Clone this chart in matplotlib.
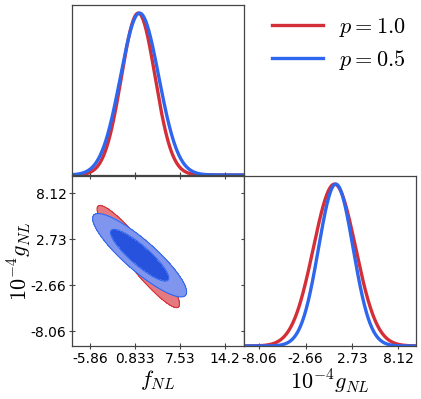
import matplotlib
matplotlib.use("Agg")
import matplotlib.pyplot as plt
import numpy as np

plt.rcParams['mathtext.fontset'] = 'cm'
plt.rcParams['font.size'] = 10

# posterior summaries (fNL, 1e-4 gNL)
labels = ['$p = 1.0$', '$p = 0.5$']
line_colors = ['#d42f38', '#2f66ee']
fill_light = ['#e47a80', '#8096ee']
fill_dark = ['#c8323c', '#2652de']
f_mean = [1.3, 1.5]
f_sigma = [2.5, 2.85]
g_mean = [0.7, 0.85]
g_sigma = [2.45, 2.0]
rho = [-0.93, -0.88]

f_ticks = [-5.86, 0.833, 7.53, 14.2]
f_ticklabels = ['-5.86', '0.833', '7.53', '14.2']
g_ticks = [-8.06, -2.66, 2.73, 8.12]
g_ticklabels = ['-8.06', '-2.66', '2.73', '8.12']
f_lim = (-8.54, 17.0)
g_lim = (-9.8, 10.15)

W, H = 421, 399
fig = plt.figure(figsize=(W / 100, H / 100), dpi=100)

def box(x0, y0, x1, y1):
    return [x0 / W, 1 - y1 / H, (x1 - x0) / W, (y1 - y0) / H]

ax_f = fig.add_axes(box(72, 5, 244, 175))
ax_2d = fig.add_axes(box(72, 176, 244, 346))
ax_g = fig.add_axes(box(244, 176, 416, 346))

tick_kw = dict(direction='inout', length=4, width=0.8, color='#444444')

# 1D marginals
xf = np.linspace(f_lim[0], f_lim[1], 600)
xg = np.linspace(g_lim[0], g_lim[1], 600)
for i in range(2):
    pf = np.exp(-0.5 * ((xf - f_mean[i]) / f_sigma[i]) ** 2)
    pg = np.exp(-0.5 * ((xg - g_mean[i]) / g_sigma[i]) ** 2)
    ax_f.plot(xf, pf, color=line_colors[i], lw=2.4, label=labels[i])
    ax_g.plot(xg, pg, color=line_colors[i], lw=2.4)

ax_f.set_xlim(f_lim)
ax_f.set_ylim(0, 1.05)
ax_f.set_xticks(f_ticks)
ax_f.set_yticks([])
ax_f.tick_params(axis='x', labelbottom=False, **tick_kw)

ax_g.set_xlim(g_lim)
ax_g.set_ylim(0, 1.05)
ax_g.set_xticks(g_ticks)
ax_g.set_xticklabels(g_ticklabels)
ax_g.set_yticks([])
ax_g.tick_params(axis='x', pad=2, **tick_kw)
ax_g.set_xlabel('$10^{-4}g_{NL}$', fontsize=16, labelpad=2)

# 2D contours (68% and 95%), second series drawn on top
F, G = np.meshgrid(np.linspace(f_lim[0], f_lim[1], 400),
                   np.linspace(g_lim[0], g_lim[1], 400))
for i in range(2):
    u = (F - f_mean[i]) / f_sigma[i]
    v = (G - g_mean[i]) / g_sigma[i]
    chi2 = (u ** 2 - 2 * rho[i] * u * v + v ** 2) / (1 - rho[i] ** 2)
    ax_2d.contourf(F, G, chi2, levels=[0, 2.30, 5.99],
                   colors=[fill_dark[i], fill_light[i]], zorder=1 + i)
    ax_2d.contour(F, G, chi2, levels=[2.30, 5.99],
                  colors=[line_colors[i]], linewidths=0.8, zorder=1.5 + i)

ax_2d.set_xlim(f_lim)
ax_2d.set_ylim(g_lim)
ax_2d.set_xticks(f_ticks)
ax_2d.set_xticklabels(f_ticklabels)
ax_2d.set_yticks(g_ticks)
ax_2d.set_yticklabels(g_ticklabels)
ax_2d.tick_params(axis='both', pad=2, right=True, top=True, **tick_kw)
ax_2d.set_xlabel('$f_{NL}$', fontsize=16, labelpad=2)
ax_2d.set_ylabel('$10^{-4}g_{NL}$', fontsize=16)
ax_2d.yaxis.set_label_coords(-0.22, 0.5)

for a in (ax_f, ax_2d, ax_g):
    for s in a.spines.values():
        s.set_color('#444444')
        s.set_linewidth(0.9)

fig.legend(loc='upper left', bbox_to_anchor=(252 / W, 1 + 4 / H),
           frameon=False, fontsize=16, handlelength=2.3, handletextpad=0.7,
           labelspacing=0.4)

fig.savefig('out.png', dpi=100)
